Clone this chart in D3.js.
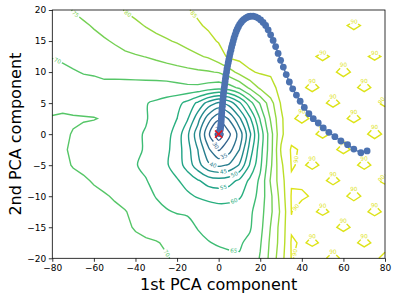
<!DOCTYPE html>
<html>
<head>
<meta charset="utf-8">
<script src="https://cdn.jsdelivr.net/npm/d3@7"></script>
<style>
  body { margin: 0; background: #fff; }
  text { font-family: "DejaVu Sans", sans-serif; }
</style>
</head>
<body>
<div id="chart"></div>
<script>
// grid of the loss surface (rows go from top y=20 down to y=-20)
const gridX = [-80,-75,-70,-65,-60,-55,-50,-45,-40,-35,-30,-25,-20,-15,-10,-5,0,5,10,15,20,25,30,35,40,45,50,55,60,65,70,75,80];
const gridY = [20,17.5,15,12.5,10,7.5,5,2.5,0,-2.5,-5,-7.5,-10,-12.5,-15,-17.5,-20];
const loss = [
  [72.5,73.8,75.2,76,77,78,79,80.2,81,82,83,83.7,84.2,84.8,85.6,86.3,87,87,86.5,87,87,86.8,86.5, 87.5,88.2,89.0,88.6,89.1,88.9,88.3,89.2,89.0,89.3],
  [72.3,73,73.8,74.5,75.3,76.3,77.3,78.3,79.3,80.2,81,82,83,83.8,84.6,85.5,86.5,87,86.8,87.5,87.5,87,86.8, 87.5,88.5,89.2,89.0,89.1,89.65,90.6,89.65,89.2,89.4],
  [71.8,72.3,72.8,73.4,74,74.6,75.4,76.4,77.4,78.3,79,79.6,80.4,81.6,82.8,84,85.3,86.5,87,87.5,87.5,87,86.5, 87,88.3,89.3,88.3,89.4,89.2,88.3,89.3,88.3,89.2],
  [70.2,70.6,71.2,71.8,72.4,73,73.6,74.2,74.6,75.1,75.8,76.6,77.4,78.3,79.4,80.5,83,85.8,86.5,87,87,86.5,86, 87.5,89.1,89.65,90.6,89.65,89.2,89.3,89.65,90.5,89.65],
  [68.5,69.2,69.7,70.2,70.4,70.7,71,71.3,71.6,72,72.4,72.8,73.3,73.8,74.2,74.6,75.3,78,81.5,84.5,85.5,85.4,85.6, 87.5,89.0,89.2,88.3,89.65,90.7,89.65,89.2,88.3,89.3],
  [67.5,68.2,69.1,68.7,68.8,69.2,68.8,68.6,68.4,68.2,68,68,68.5,69,69,68,67,68,71,76,81,84,86, 88,89.65,90.6,89.65,89.2,88.3,89.65,90.6,89.65,89.2],
  [68,68.5,68.6,68.3,68,67.5,67,66.5,65.8,65.2,64.3,63.2,61.5,58.5,54,48,44,47,54,63,70.5,78,85.5, 88.5,89.2,88.3,89.65,90.6,89.65,89.2,88.3,89.65,90.5],
  [70.5,70.8,70.4,70.3,70.2,69.6,68.5,67.5,66.2,65.2,64,62.5,60,55.5,47,37,31,35.5,44,54,65.5,75.5,84, 89.65,90.7,89.65,89.2,88.3,89.65,90.6,89.65,89.2,88.3],
  [71.5,70.6,69.8,69,68.2,67.5,66.8,66,65.4,64.8,63.5,61.5,58,51,42,31,22,29,37,49,62,73,84, 88.7,88.3,89.65,90.6,89.65,89.2,88.3,89.65,90.7,89.65],
  [72,70.4,69.5,69.3,69,68.5,68,67.4,66,64.5,63,61,57.5,52,45,36,29.5,33,40,52,63,73,85.5, 90.5,89.65,89.2,88.3,89.65,90.6,89.65,89.2,88.3,89.3],
  [72.3,71.5,69.6,68.6,67.8,67.2,66.6,66,65.2,64.2,62.5,60.5,57.5,53,47,41,39,40.5,45.5,55.5,64,74,84, 90.2,89.65,90.6,89.65,89.2,88.3,89.65,90.6,89.65,89.2],
  [73,72.6,71.8,70.8,69.5,68.8,68,67,66,65.2,63.8,62.3,60.5,58,55.5,53,52,53,56,61,66,75.5,83, 89.7,89.2,88.3,89.65,90.6,89.65,89.2,88.3,89.65,90.5],
  [73.5,73,72.5,72,71.3,70.4,69.6,68.6,67.5,66.2,64.8,63.8,62.5,61,59.5,58.5,58.2,58.5,59.5,62,67,74,82, 90.3,90.6,89.65,89.2,88.3,89.65,90.7,89.65,89.2,88.3],
  [73.8,73.5,73,72.6,72,71.5,70.8,70.2,69,67.5,66.2,65.3,64.7,64.6,64,63,62,62,62.5,64,68,74,81, 90.1,88.3,89.65,90.5,89.65,89.2,88.3,89.65,90.6,89.65],
  [74,73.8,73.5,73,72.6,72,71.3,70.6,69.7,69,68.5,68,67,66,64.8,63.8,63,62.5,63,64.5,68.5,75.2,82, 89.6,89.2,89.3,88.3,89.65,90.6,89.65,89.2,88.3,89.3],
  [74.2,74,73.8,73.4,73,72.5,71.8,71.2,70.8,70.5,70.2,69.6,68.5,67.3,66,65.2,64.6,64.3,64.5,66,69.5,76,82, 90.4,89.65,90.5,89.65,89.2,88.3,89.65,90.6,89.65,89.2],
  [74.5,74.3,74,73.8,73.5,73,72.5,72,71.6,71.2,70.7,70.2,69.5,68.7,67.8,67,66.3,65.8,65.4,66.5,70.4,76.5,83, 90.2,89.2,88.3,89.65,90.6,89.65,89.2,88.3,89.65,90.5]
];
const levels = [25,30,35,40,45,50,55,60,65,70,75,80,85,90];

// optimisation path, first point is the start
const pathX = [71.4,68.4,65.0,62.0,58.8,55.9,53.0,50.3,47.9,45.5,43.4,41.2,39.2,37.4,35.6,34.0,32.5,31.1,29.8,28.6,27.4,26.2,25.0,23.8,22.6,21.4,20.2,19.0,17.8,16.6,
  15.4,14.6,13.8,13.0,12.2,11.5,10.8,10.1,9.5,8.9,8.4,7.9,7.4,7.0,6.6,6.2,5.9,5.5,5.2,4.9,4.6,4.3,4.0,3.8,3.5,3.3,3.1,2.9,2.7,2.5,
  2.3,2.2,2.0,1.9,1.8,1.6,1.5,1.4,1.3,1.2,1.1,1.0,0.8,0.6,0.4,0.2];
const pathY = [-2.7,-3.0,-2.4,-1.7,-1.1,-0.4,0.3,1.0,1.8,2.5,3.3,4.3,5.3,6.3,7.3,8.4,9.6,10.8,11.9,13.0,14.1,15.1,16.0,16.8,17.5,18.0,18.4,18.7,18.9,19.0,
  19.0,18.95,18.85,18.7,18.5,18.3,18.0,17.7,17.3,16.9,16.5,16.0,15.5,15.0,14.5,14.0,13.5,13.0,12.5,12.0,11.5,11.0,10.5,10.0,9.5,9.0,8.5,8.0,7.5,7.0,
  6.5,6.0,5.5,5.0,4.5,4.0,3.5,3.0,2.5,2.0,1.6,1.2,0.8,0.5,0.25,0.1];
const minimum = [0, 0];

const xTicks = [-80,-60,-40,-20,0,20,40,60,80];
const yTicks = [-20,-15,-10,-5,0,5,10,15,20];

const width = 398, height = 300;
const x = d3.scaleLinear().domain([-80, 80]).range([52.3, 385]);
const y = d3.scaleLinear().domain([-20, 20]).range([258.3, 10]);
const color = d3.scaleSequential(d3.interpolateViridis).domain([0, 95]);

const svg = d3.select("#chart").append("svg")
  .attr("width", width)
  .attr("height", height);

// contour geometry lives in grid units, value i sits at i + 0.5
const nx = gridX.length, ny = gridY.length;
const gx = d3.scaleLinear().domain([0.5, nx - 0.5]).range([gridX[0], gridX[nx - 1]]);
const gy = d3.scaleLinear().domain([0.5, ny - 0.5]).range([gridY[0], gridY[ny - 1]]);

const contours = d3.contours()
  .size([nx, ny])
  .thresholds(levels)(loss.flat());

const x0 = x.range()[0], x1 = x.range()[1], y0 = y.range()[1], y1 = y.range()[0];
const inside = p => p[0] >= x0 - 0.01 && p[0] <= x1 + 0.01 && p[1] >= y0 - 0.01 && p[1] <= y1 + 0.01;

// cut a ring into the pieces that lie in the plot (drop the frame edges)
function runsOf(ring) {
  const pts = ring.map(p => [x(gx(p[0])), y(gy(p[1]))]);
  const open = pts.slice(0, -1);
  const k = open.findIndex(p => !inside(p));
  if (k < 0) return [{pts: pts, closed: true}];
  const rot = open.slice(k).concat(open.slice(0, k));
  rot.push(rot[0]);
  const runs = [];
  let cur = [];
  rot.forEach(p => {
    if (inside(p)) cur.push(p);
    else { if (cur.length > 1) runs.push({pts: cur, closed: false}); cur = []; }
  });
  if (cur.length > 1) runs.push({pts: cur, closed: false});
  return runs;
}

function cumLen(pts) {
  const c = [0];
  for (let i = 1; i < pts.length; i++) {
    c.push(c[i - 1] + Math.hypot(pts[i][0] - pts[i - 1][0], pts[i][1] - pts[i - 1][1]));
  }
  return c;
}

function pointAt(pts, c, s) {
  const i = d3.bisectLeft(c, s);
  if (i <= 0) return pts[0].slice();
  if (i >= pts.length) return pts[pts.length - 1].slice();
  const t = (s - c[i - 1]) / (c[i] - c[i - 1] || 1);
  return [pts[i - 1][0] + t * (pts[i][0] - pts[i - 1][0]), pts[i - 1][1] + t * (pts[i][1] - pts[i - 1][1])];
}

const straight = d3.line();
const round = d3.line().curve(d3.curveCatmullRom.alpha(0.5));
const gCont = svg.append("g");
const gLab = svg.append("g");
const gap = 9.5;

function draw(part, level) {
  if (part.length < 2) return;
  gCont.append("path")
    .attr("d", (level <= 65 ? round : straight)(part))
    .attr("fill", "none")
    .attr("stroke", color(level))
    .attr("stroke-width", 1.4);
}

contours.forEach(ct => {
  const col = color(ct.value);
  ct.coordinates.forEach(poly => poly.forEach(ring => {
    runsOf(ring).forEach(({pts: run, closed}) => {
      const c = cumLen(run);
      const L = c[c.length - 1];
      if (L < 14) { draw(run, ct.value); return; }
      let best = L / 2;
      if (L < 40) {
        // small pieces: label sits on the top of the piece
        let top = Infinity;
        for (let s = 0; s <= L; s += 0.5) {
          const p = pointAt(run, c, s);
          if (p[1] < top && s > gap / 2 && s < L - gap / 2) { top = p[1]; best = s; }
        }
      } else {
        // straightest stretch for the label
        let bestScore = -1;
        for (let s = gap / 2 + 1; s <= L - gap / 2 - 1; s += 1) {
          const a = pointAt(run, c, s - gap / 2), b = pointAt(run, c, s + gap / 2);
          const score = Math.hypot(b[0] - a[0], b[1] - a[1]) / gap;
          if (score > bestScore + 0.02) { bestScore = score; best = s; }
        }
      }
      const sA = best - gap / 2, sB = best + gap / 2;
      const partA = run.filter((p, i) => c[i] < sA).concat([pointAt(run, c, sA)]);
      const partB = [pointAt(run, c, sB)].concat(run.filter((p, i) => c[i] > sB));
      if (closed) draw(partB.concat(partA.slice(1)), ct.value);
      else { draw(partA, ct.value); draw(partB, ct.value); }
      const a = pointAt(run, c, sA), b = pointAt(run, c, sB), m = pointAt(run, c, best);
      let ang = Math.atan2(b[1] - a[1], b[0] - a[0]) * 180 / Math.PI;
      if (ang > 90) ang -= 180;
      if (ang < -90) ang += 180;
      gLab.append("text")
        .attr("transform", `translate(${m[0]},${m[1]}) rotate(${ang})`)
        .attr("text-anchor", "middle")
        .attr("dy", "0.35em")
        .attr("font-size", "5.6px")
        .attr("fill", col)
        .text(d3.format("d")(ct.value));
    });
  }));
});

// optimisation path
const traj = pathX.map((d, i) => [d, pathY[i]]);
svg.append("path")
  .attr("d", d3.line().x(d => x(d[0])).y(d => y(d[1]))(traj))
  .attr("fill", "none")
  .attr("stroke", "#4c72b0")
  .attr("stroke-width", 1.4);
svg.append("g").selectAll("circle")
  .data(traj)
  .join("circle")
  .attr("cx", d => x(d[0]))
  .attr("cy", d => y(d[1]))
  .attr("r", 3.4)
  .attr("fill", "#4c72b0");

svg.append("path")
  .attr("transform", `translate(${x(minimum[0])},${y(minimum[1])})`)
  .attr("d", "M-3.6,-3.6L3.6,3.6M-3.6,3.6L3.6,-3.6")
  .attr("stroke", "#e8141c")
  .attr("stroke-width", 1.6)
  .attr("fill", "none");

// axes
const xAxis = svg.append("g")
  .attr("transform", `translate(0,${y1})`)
  .call(d3.axisBottom(x).tickValues(xTicks).tickSize(3.5).tickPadding(2.5).tickFormat(d3.format("d")));
const yAxis = svg.append("g")
  .attr("transform", `translate(${x0},0)`)
  .call(d3.axisLeft(y).tickValues(yTicks).tickSize(3.5).tickPadding(2.5).tickFormat(d3.format("d")));
[xAxis, yAxis].forEach(a => {
  a.select(".domain").remove();
  a.selectAll("text").attr("font-size", "9px").attr("fill", "#000").attr("font-family", "DejaVu Sans");
  a.selectAll("line").attr("stroke", "#000").attr("stroke-width", 0.8);
});

svg.append("rect")
  .attr("x", x0).attr("y", y0)
  .attr("width", x1 - x0).attr("height", y1 - y0)
  .attr("fill", "none").attr("stroke", "#000").attr("stroke-width", 0.8);

svg.append("text")
  .attr("x", (x0 + x1) / 2).attr("y", 290)
  .attr("text-anchor", "middle")
  .attr("font-size", "16px")
  .text("1st PCA component");

svg.append("text")
  .attr("transform", `translate(21,${(y0 + y1) / 2}) rotate(-90)`)
  .attr("text-anchor", "middle")
  .attr("font-size", "16px")
  .text("2nd PCA component");
</script>
</body>
</html>
